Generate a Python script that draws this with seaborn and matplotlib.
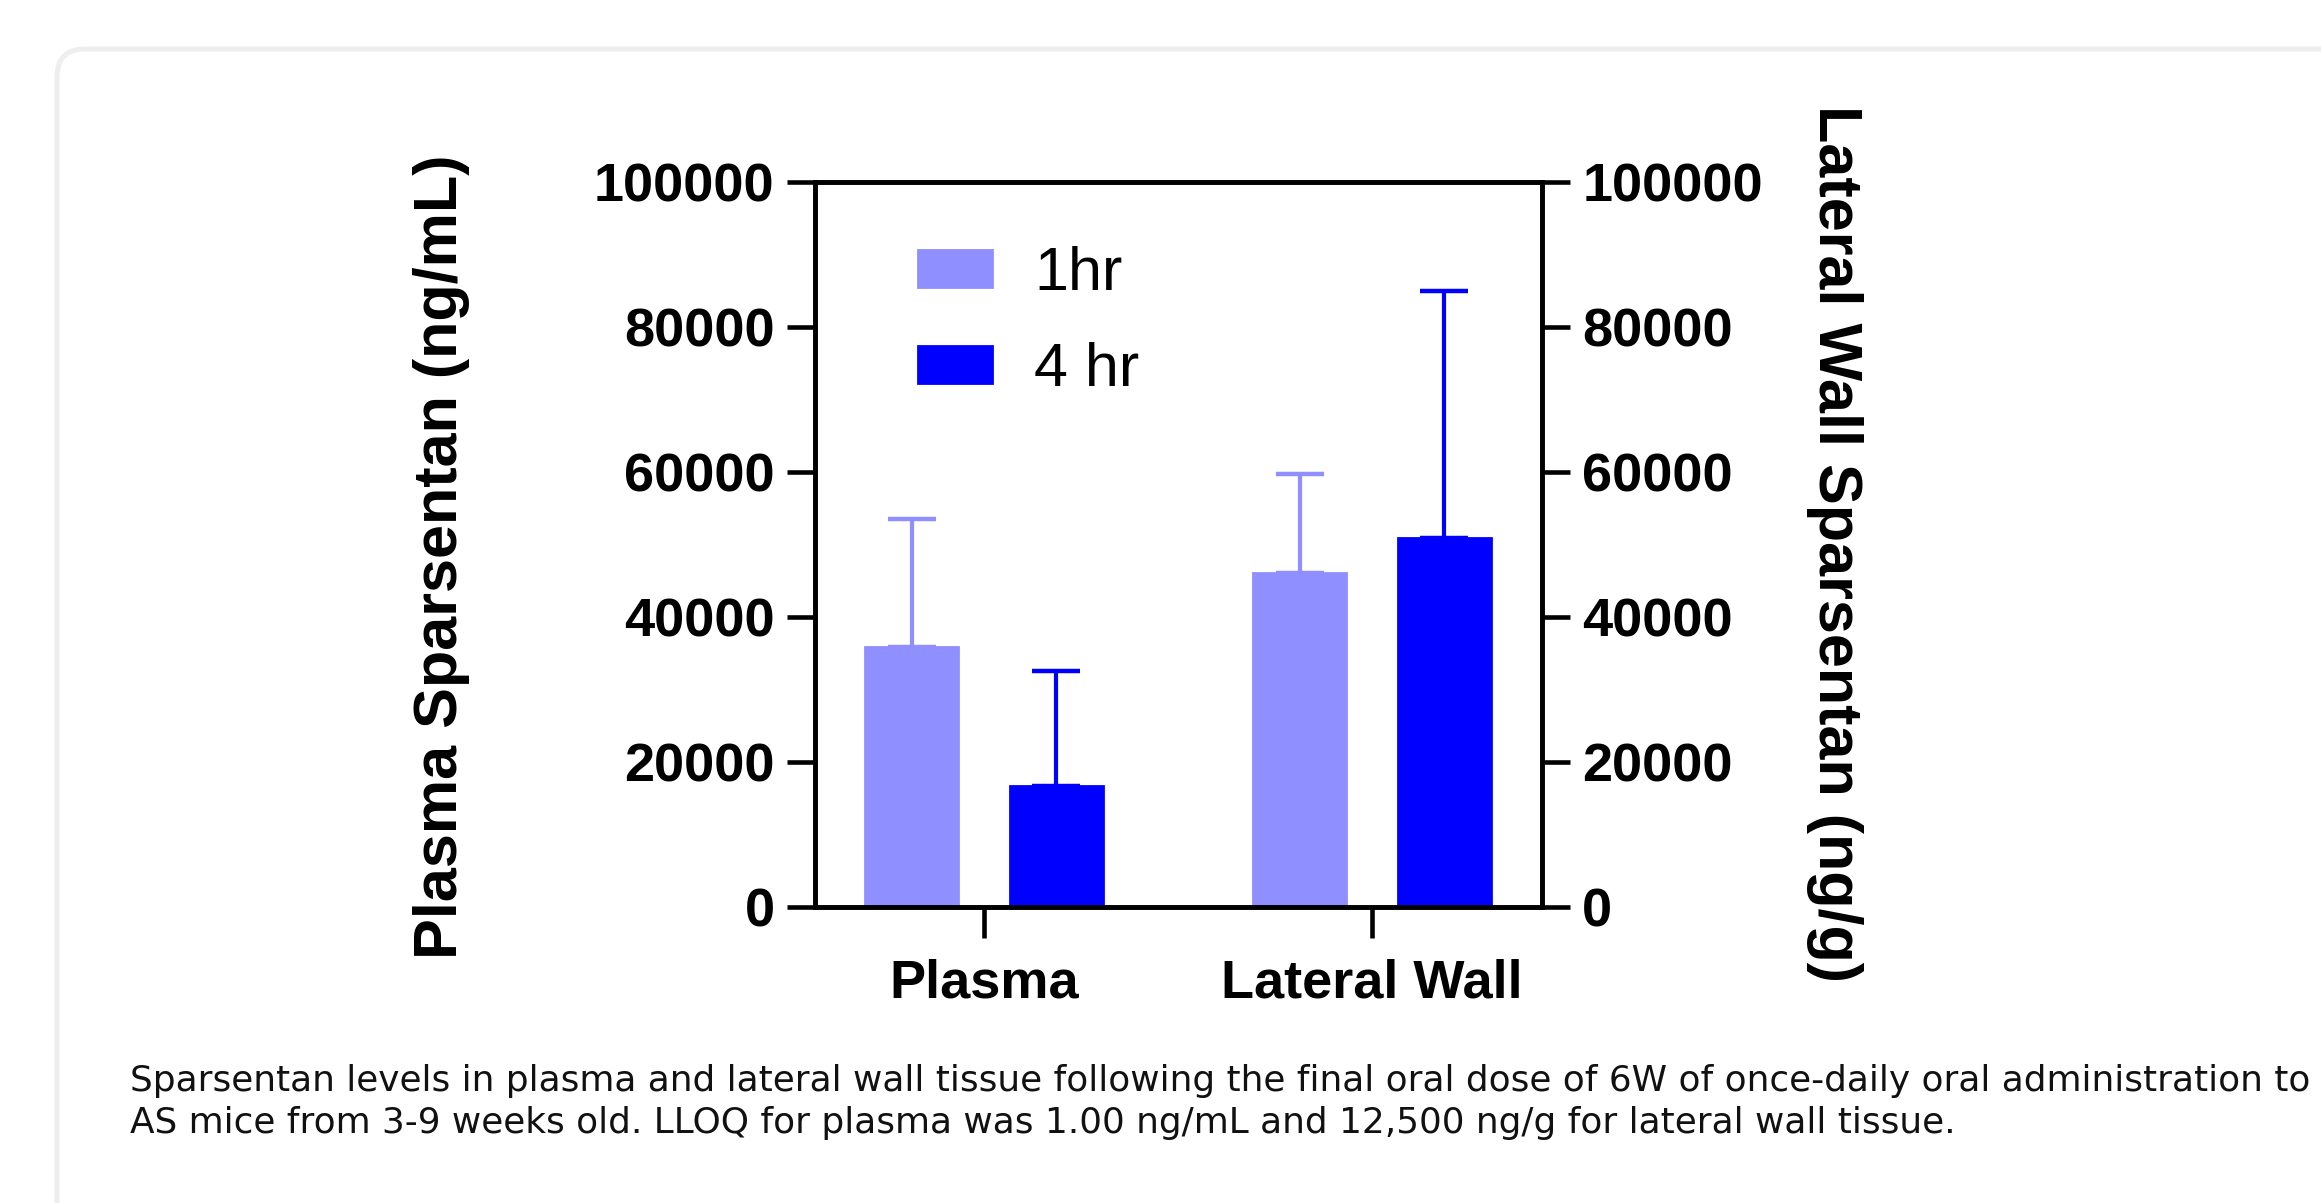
import numpy as np
import pandas as pd
import matplotlib
matplotlib.use("Agg")
import matplotlib.pyplot as plt
import seaborn as sns
from matplotlib.patches import FancyBboxPatch
from matplotlib.transforms import IdentityTransform

# ---------------- data ----------------
groups = ["Plasma", "Lateral Wall"]
time_points = ["1hr", "4 hr"]
mean_1hr = [35900, 46100]
mean_4hr = [16700, 50900]
sd_1hr = [17600, 13600]
sd_4hr = [15900, 34100]
y_ticks = [0, 20000, 40000, 60000, 80000, 100000]
y_tick_labels = ["0", "20000", "40000", "60000", "80000", "100000"]
left_label = "Plasma Sparsentan (ng/mL)"
right_label = "Lateral Wall Sparsentan (ng/g)"
caption_lines = [
    "Sparsentan levels in plasma and lateral wall tissue following the final oral dose of 6W of once-daily oral administration to",
    "AS mice from 3-9 weeks old. LLOQ for plasma was 1.00 ng/mL and 12,500 ng/g for lateral wall tissue.",
]
colors = ["#8F8FFF", "#0000FF"]

df = pd.DataFrame({
    "tissue": groups * 2,
    "time": [time_points[0]] * len(groups) + [time_points[1]] * len(groups),
    "conc": mean_1hr + mean_4hr,
})
sds = [sd_1hr, sd_4hr]

# ---------------- style ----------------
sns.set_style("ticks")
plt.rcParams["font.family"] = ["Liberation Sans", "DejaVu Sans"]
plt.rcParams["text.color"] = "black"
plt.rcParams["axes.labelcolor"] = "black"

W, H = 2321, 1203
fig = plt.figure(figsize=(W / 100, H / 100), dpi=100)
fig.patch.set_facecolor("white")

# card frame
card = FancyBboxPatch((57, -60), 2400, (H - 49) + 60,
                      boxstyle="round,pad=0,rounding_size=28",
                      transform=IdentityTransform(), facecolor="white",
                      edgecolor="#EEEEEE", linewidth=3.6, zorder=-5)
fig.add_artist(card)

ax = fig.add_axes([815 / W, 1 - 907 / H, (1542 - 815) / W, (907 - 182) / H])
ax.set_facecolor("none")

sns.barplot(data=df, x="tissue", y="conc", hue="time", order=groups,
            hue_order=time_points, palette=colors, saturation=1,
            width=0.745, gap=0.355, errorbar=None, legend=False, ax=ax)

for cont, col, sd in zip(ax.containers, colors, sds):
    xs, ys = [], []
    for bar in cont:
        bar.set_edgecolor(col)
        bar.set_linewidth(2)
        xs.append(bar.get_x() + bar.get_width() / 2)
        ys.append(bar.get_height())
    ax.errorbar(xs, ys, yerr=[np.zeros(len(sd)), sd], fmt="none",
                ecolor=col, elinewidth=3, capsize=17, capthick=3.2, zorder=3)

ax.set_xlim(-0.4356, 1.438)
ax.set_ylim(0, 100000)
ax.set_yticks(y_ticks)
ax.set_yticklabels(y_tick_labels)
ax.set_xlabel("")
ax.set_ylabel(left_label, fontsize=44, fontweight="bold", color="black")
ax.yaxis.set_label_coords(-0.514, 0.483)
ax.yaxis.label.set_va("center")

LW = 3.3
ax.tick_params(axis="y", left=True, right=False, length=20, width=LW,
               pad=9, labelsize=39, colors="black")
ax.tick_params(axis="x", bottom=True, length=22, width=LW, pad=15,
               labelsize=39, colors="black")
for lbl in ax.get_xticklabels() + ax.get_yticklabels():
    lbl.set_fontweight("bold")

for s in ax.spines.values():
    s.set_linewidth(LW)
    s.set_color("black")

leg = ax.legend(handles=ax.containers, labels=time_points, loc="upper left",
                bbox_to_anchor=(0.142, 0.912), frameon=False, fontsize=44,
                handlelength=1.2, handleheight=0.55, handletextpad=0.7,
                labelspacing=0.64, borderpad=0, borderaxespad=0)
for t in leg.get_texts():
    t.set_color("black")

ax2 = ax.twinx()
ax2.set_ylim(0, 100000)
ax2.set_yticks(y_ticks)
ax2.set_yticklabels(y_tick_labels)
ax2.tick_params(axis="y", right=True, length=20, width=LW, pad=9,
                labelsize=39, colors="black")
for lbl in ax2.get_yticklabels():
    lbl.set_fontweight("bold")
for s in ax2.spines.values():
    s.set_linewidth(LW)
    s.set_color("black")
ax2.set_ylabel(right_label, fontsize=44, fontweight="bold", rotation=-90,
               color="black")
ax2.yaxis.set_label_coords(1.403, 0.502)
ax2.yaxis.label.set_va("center")

# caption
fig.text(130 / W, 1 - 1091 / H, caption_lines[0], fontsize=25.8,
         family="DejaVu Sans", va="baseline", ha="left", color="#111111")
fig.text(130 / W, 1 - 1133 / H, caption_lines[1], fontsize=25.8,
         family="DejaVu Sans", va="baseline", ha="left", color="#111111")

fig.savefig("out.png", dpi=100)
